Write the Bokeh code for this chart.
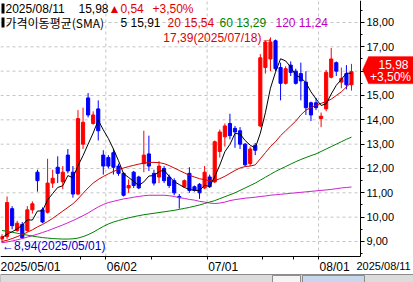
from bokeh.plotting import figure
from bokeh.models import (Range1d, FixedTicker, Label, PolyAnnotation, BoxAnnotation,
                          CustomJSTickFormatter, ColumnDataSource)
from bokeh.embed import file_html
from bokeh.resources import INLINE

# ---------------- data ----------------
dates = [
    "2025/05/01", "2025/05/02", "2025/05/05", "2025/05/06", "2025/05/07", "2025/05/08", "2025/05/09",
    "2025/05/12", "2025/05/13", "2025/05/14", "2025/05/15", "2025/05/16", "2025/05/19", "2025/05/20",
    "2025/05/21", "2025/05/22", "2025/05/23", "2025/05/27", "2025/05/28", "2025/05/29", "2025/05/30",
    "2025/06/02", "2025/06/03", "2025/06/04", "2025/06/05", "2025/06/06", "2025/06/09", "2025/06/10",
    "2025/06/11", "2025/06/12", "2025/06/13", "2025/06/16", "2025/06/17", "2025/06/18", "2025/06/20",
    "2025/06/23", "2025/06/24", "2025/06/25", "2025/06/26", "2025/06/27", "2025/06/30",
    "2025/07/01", "2025/07/02", "2025/07/03", "2025/07/07", "2025/07/08", "2025/07/09", "2025/07/10",
    "2025/07/11", "2025/07/14", "2025/07/15", "2025/07/16", "2025/07/17", "2025/07/18", "2025/07/21",
    "2025/07/22", "2025/07/23", "2025/07/24", "2025/07/25", "2025/07/28", "2025/07/29", "2025/07/30",
    "2025/07/31", "2025/08/01", "2025/08/04", "2025/08/05", "2025/08/06", "2025/08/07", "2025/08/08",
    "2025/08/11",
]
opens = [9.10, 9.20, 10.35, 9.45, 9.70, 9.45, 10.30, 11.85, 10.30, 10.20,
         11.40, 12.05, 11.45, 12.55, 11.85, 10.95, 13.00, 14.90, 13.85, 14.45,
         12.55, 12.45, 12.65, 12.10, 11.80, 11.20, 11.85, 11.65, 12.20, 12.60,
         11.80, 11.65, 12.00, 11.65, 11.50, 10.85, 11.25, 11.80, 11.25, 11.35,
         11.20, 11.65, 11.45, 12.70, 13.30, 13.85, 13.65, 13.55, 13.00, 12.20,
         12.95, 13.75, 16.15, 16.50, 17.25, 16.15, 15.50, 16.25, 16.00, 15.90,
         15.55, 14.70, 14.70, 14.05, 14.45, 15.75, 16.35, 15.55, 15.90, 15.44]
highs = [9.30, 10.85, 10.45, 9.85, 9.80, 10.45, 10.65, 11.95, 10.40, 12.40,
         11.95, 12.50, 12.10, 12.80, 12.10, 14.40, 14.50, 15.10, 14.35, 14.80,
         12.75, 12.55, 12.80, 12.20, 11.85, 11.55, 11.90, 11.70, 13.55, 13.35,
         11.95, 12.30, 12.10, 11.75, 11.60, 10.95, 11.55, 12.05, 11.30, 11.40,
         12.10, 11.75, 13.15, 13.60, 13.85, 14.25, 13.75, 13.70, 13.05, 12.90,
         13.05, 16.70, 17.25, 17.39, 17.30, 16.35, 16.20, 16.40, 16.10, 16.35,
         16.00, 14.75, 14.90, 14.30, 16.05, 16.95, 16.40, 16.15, 16.25, 16.30]
lows = [8.94, 9.10, 9.50, 9.40, 9.10, 9.40, 10.15, 11.05, 9.75, 10.15,
        11.20, 11.40, 11.15, 11.80, 10.80, 10.90, 12.80, 14.10, 13.80, 13.15,
        11.75, 12.00, 11.75, 11.70, 10.85, 11.00, 11.20, 11.15, 11.85, 11.90,
        11.30, 11.40, 11.40, 11.20, 10.90, 10.35, 11.20, 11.00, 11.05, 10.75,
        11.15, 11.20, 11.40, 12.45, 12.90, 13.20, 12.85, 12.80, 12.10, 12.10,
        12.55, 13.70, 15.90, 16.00, 16.00, 14.80, 15.45, 15.80, 15.45, 14.80,
        14.20, 13.95, 14.40, 13.70, 14.35, 15.70, 15.80, 15.30, 15.25, 15.20]
closes = [9.20, 10.60, 9.65, 9.75, 9.15, 10.30, 10.55, 11.50, 9.80, 11.40,
          11.60, 11.80, 11.85, 11.90, 10.95, 14.05, 13.90, 14.20, 14.20, 13.55,
          12.10, 12.10, 12.05, 11.80, 10.90, 11.30, 11.30, 11.20, 12.55, 12.10,
          11.40, 12.10, 11.50, 11.30, 11.00, 10.80, 11.50, 11.10, 11.10, 11.00,
          11.85, 11.25, 13.10, 13.50, 13.75, 13.35, 13.50, 13.00, 12.15, 12.80,
          12.75, 16.55, 17.20, 17.20, 16.10, 15.50, 16.10, 15.95, 15.50, 15.60,
          14.50, 14.20, 14.50, 14.15, 15.95, 16.50, 16.00, 15.70, 15.44, 15.98]
sma5 = [9.15, 9.30, 9.40, 9.52, 9.67, 9.89, 9.88, 10.25, 10.26, 10.71,
        10.97, 11.22, 11.29, 11.71, 11.62, 12.11, 12.53, 13.00, 13.46, 13.98,
        13.59, 13.23, 12.80, 12.32, 11.79, 11.63, 11.47, 11.30, 11.45, 11.69,
        11.71, 11.87, 11.93, 11.68, 11.46, 11.34, 11.22, 11.14, 11.10, 11.10,
        11.31, 11.26, 11.66, 12.14, 12.69, 12.99, 13.44, 13.42, 13.15, 12.96,
        12.84, 13.45, 14.29, 15.30, 15.96, 16.51, 16.42, 16.17, 15.83, 15.73,
        15.53, 15.15, 14.86, 14.59, 14.66, 15.06, 15.42, 15.66, 15.92, 15.91]
sma20 = [9.00, 9.05, 9.12, 9.20, 9.28, 9.38, 9.48, 9.60, 9.70, 9.82,
         9.95, 10.10, 10.25, 10.40, 10.55, 10.75, 10.98, 11.20, 11.40, 11.55,
         11.67, 11.78, 11.88, 11.96, 12.02, 12.08, 12.13, 12.18, 12.22, 12.25,
         12.25, 12.24, 12.20, 12.12, 12.02, 11.92, 11.82, 11.72, 11.65, 11.58,
         11.54, 11.50, 11.50, 11.58, 11.68, 11.80, 11.92, 12.02, 12.08, 12.10,
         12.15, 12.40, 12.65, 12.90, 13.10, 13.35, 13.55, 13.75, 13.95, 14.20,
         14.40, 14.50, 14.60, 14.68, 14.75, 14.85, 15.00, 15.15, 15.35, 15.54]
sma60 = [9.45, 9.42, 9.38, 9.34, 9.30, 9.26, 9.22, 9.19, 9.16, 9.14,
         9.12, 9.11, 9.10, 9.10, 9.11, 9.14, 9.20, 9.28, 9.38, 9.50,
         9.62, 9.72, 9.80, 9.86, 9.92, 9.97, 10.02, 10.06, 10.10, 10.13,
         10.16, 10.19, 10.22, 10.25, 10.28, 10.32, 10.36, 10.40, 10.45, 10.50,
         10.56, 10.62, 10.68, 10.76, 10.84, 10.92, 11.00, 11.10, 11.20, 11.30,
         11.40, 11.52, 11.64, 11.76, 11.88, 11.98, 12.08, 12.18, 12.28, 12.37,
         12.45, 12.53, 12.60, 12.70, 12.80, 12.90, 13.00, 13.10, 13.20, 13.29]
sma120 = [8.95, 8.98, 9.02, 9.07, 9.12, 9.18, 9.24, 9.30, 9.37, 9.44,
          9.52, 9.60, 9.68, 9.77, 9.86, 9.96, 10.06, 10.17, 10.30, 10.42,
          10.52, 10.60, 10.65, 10.70, 10.75, 10.78, 10.82, 10.85, 10.88, 10.90,
          10.90, 10.90, 10.90, 10.88, 10.85, 10.80, 10.77, 10.73, 10.70, 10.65,
          10.62, 10.58, 10.56, 10.58, 10.62, 10.68, 10.72, 10.75, 10.78, 10.80,
          10.82, 10.85, 10.87, 10.90, 10.92, 10.94, 10.96, 10.98, 11.00, 11.02,
          11.04, 11.06, 11.08, 11.10, 11.12, 11.14, 11.17, 11.20, 11.22, 11.24]
price_ticks = [9, 10, 11, 12, 13, 14, 15, 16, 17, 18]
date_tick_labels = {"2025/05/01": "2025/05/01", "2025/06/02": "06/02",
                    "2025/07/01": "07/01", "2025/08/01": "08/01"}
minor_date_ticks = ["2025/05/23", "2025/06/13", "2025/07/17", "2025/07/25"]

# ---------------- geometry / styling ----------------
W, H = 413, 282
PX_X = 5.065           # pixels per trading day
PX_Y = 24.333          # pixels per price unit
X0 = -1.5 / PX_X       # data x at the left edge of the canvas
Y1 = 18.904            # data y at the top of the canvas
PLOT_RIGHT = X0 + 360 / PX_X     # price axis position
PLOT_BOTTOM = Y1 - 256 / PX_Y    # date axis position
Y0 = Y1 - H / PX_Y               # data y at the bottom of the canvas
STRIP_TOP = Y1 - 274 / PX_Y      # top of the window's scrollbar strip

UP, DOWN = "#FF0000", "#0000FF"
C5, C20, C60, C120 = "#000000", "#D00000", "#008000", "#D020D0"
GRID = "#C4C4C4"
FONT = "Liberation Sans"
KFONT = "Noto Sans CJK KR"


def fmt(v):
    return f"{v:.2f}".replace(".", ",")


n = len(dates)
xs = list(range(n))
colors = [UP if c >= o else DOWN for o, c in zip(opens, closes)]
src = ColumnDataSource(dict(
    x=xs, h=highs, l=lows,
    top=[max(o, c) for o, c in zip(opens, closes)],
    bot=[min(o, c) for o, c in zip(opens, closes)],
    color=colors))

p = figure(width=W, height=H, x_range=Range1d(X0, X0 + W / PX_X), y_range=Range1d(Y0, Y1),
           output_backend="svg", toolbar_location=None,
           x_axis_location="below", y_axis_location="right",
           min_border_left=0, min_border_top=0, min_border_right=0, min_border_bottom=0)
p.outline_line_color = None
p.background_fill_color = "white"
p.border_fill_color = "white"
p.grid.visible = False

# scrollbar strip of the window (plain decoration)
p.quad(left=[X0, X0 + 272 / PX_X, X0 + 302 / PX_X], right=[X0 + W / PX_X, X0 + 300 / PX_X, X0 + 364 / PX_X],
       top=[STRIP_TOP, STRIP_TOP - 0.04, STRIP_TOP - 0.04], bottom=[Y0, Y0, Y0],
       fill_color=["#DCDCDC", "#F4F4F4", "#C8D8EC"], line_color="#8C8C8C", line_width=1)

# price axis (right) pinned at the right edge of the plot area
p.yaxis.fixed_location = PLOT_RIGHT
p.yaxis.bounds = (PLOT_BOTTOM, Y1)
p.yaxis.ticker = FixedTicker(ticks=price_ticks,
                             minor_ticks=[t - 0.5 for t in price_ticks] + [price_ticks[-1] + 0.5])
p.yaxis.formatter = CustomJSTickFormatter(code="return tick.toFixed(2).replace('.', ',')")
p.yaxis.major_tick_in = 0
p.yaxis.major_tick_out = 4
p.yaxis.minor_tick_in = 0
p.yaxis.minor_tick_out = 2
p.yaxis.major_label_standoff = 2
p.yaxis.major_label_text_font = FONT
p.yaxis.major_label_text_font_size = "11px"
p.yaxis.major_label_text_color = "#000000"
p.yaxis.axis_line_color = "#000000"
p.yaxis.major_tick_line_color = "#000000"
p.yaxis.minor_tick_line_color = "#000000"

# date axis (below) pinned at the bottom of the plot area
p.xaxis.fixed_location = PLOT_BOTTOM
p.xaxis.bounds = (X0, PLOT_RIGHT)
p.xaxis.ticker = FixedTicker(ticks=[dates.index(d) - 0.5 for d in date_tick_labels if dates.index(d) > 0],
                             minor_ticks=[dates.index(d) - 0.5 for d in minor_date_ticks])
p.xaxis.formatter = CustomJSTickFormatter(code="return ''")
p.xaxis.major_tick_in = 0
p.xaxis.major_tick_out = 3
p.xaxis.minor_tick_in = 0
p.xaxis.minor_tick_out = 3
p.xaxis.axis_line_color = "#000000"
p.xaxis.major_tick_line_color = "#000000"
p.xaxis.minor_tick_line_color = "#000000"

# dashed grid limited to the plot area
p.segment(x0=[X0] * len(price_ticks), y0=price_ticks, x1=[PLOT_RIGHT] * len(price_ticks), y1=price_ticks,
          line_color=GRID, line_dash="3 3", line_width=1)
vt = [dates.index(d) - 0.5 for d in date_tick_labels if dates.index(d) > 0]
p.segment(x0=vt, y0=[PLOT_BOTTOM] * len(vt), x1=vt, y1=[Y1] * len(vt),
          line_color=GRID, line_dash="3 3", line_width=1)

# candles
p.segment(x0="x", y0="l", x1="x", y1="h", line_color="color", line_width=1, source=src)
p.vbar(x="x", width=0.62, top="top", bottom="bot", fill_color="color", line_color="color",
       line_width=1, source=src)

# moving averages
p.line(xs, sma120, line_color=C120, line_width=1)
p.line(xs, sma60, line_color=C60, line_width=1)
p.line(xs, sma20, line_color=C20, line_width=1)
p.line(xs, sma5, line_color=C5, line_width=1)

# date labels below the axis (left aligned at their ticks)
for d, lab in date_tick_labels.items():
    p.add_layout(Label(x=dates.index(d) - 0.5, y=PLOT_BOTTOM, x_offset=1, y_offset=-3, text=lab,
                       text_align="left", text_baseline="top", text_font=FONT,
                       text_font_size="12px", text_color="#000000"))
p.add_layout(Label(x=n - 1, y=PLOT_BOTTOM, x_offset=5, y_offset=-3, text=dates[-1],
                   text_align="left", text_baseline="top", text_font=FONT,
                   text_font_size="11px", text_color="#000000"))

# high / low annotations
hi_i = max(range(n), key=lambda i: highs[i])
lo_i = min(range(n), key=lambda i: lows[i])
p.add_layout(Label(x=hi_i, y=highs[hi_i], x_offset=3, y_offset=-1,
                   text=f"{fmt(highs[hi_i])}({dates[hi_i]})→",
                   text_align="right", text_baseline="middle", text_font=FONT,
                   text_font_size="12px", text_color="#E00000"))
p.add_layout(Label(x=lo_i, y=lows[lo_i], x_offset=0, y_offset=-3,
                   text=f"←{fmt(lows[lo_i])}({dates[lo_i]})",
                   text_align="left", text_baseline="middle", text_font=FONT,
                   text_font_size="12px", text_color="#0000C0"))

# header (two lines over the top of the plot)
last, prev = closes[-1], closes[-2]
chg = last - prev
pct = chg / prev * 100


def hlabel(xpos, ycanvas, text, color, font=FONT):
    p.add_layout(Label(x=xpos, y=H - ycanvas, x_units="screen", y_units="screen", text=text,
                       text_align="left", text_baseline="middle", text_font=font,
                       text_font_size="12px", text_color=color))


for yc in (8, 22):
    p.add_layout(BoxAnnotation(left=1, right=4, top=H - yc + 5, bottom=H - yc - 5,
                               left_units="screen", right_units="screen", top_units="screen",
                               bottom_units="screen", fill_color="#000000", fill_alpha=1,
                               line_color=None))
hlabel(5, 8, dates[-1], "#000000")
hlabel(78, 8, fmt(last), "#000000")
hlabel(108, 8, "▲" + fmt(chg), "#E00000")
hlabel(152, 8, "+" + fmt(pct) + "%", "#E00000")
hlabel(5, 22, "가격이동평균(SMA)", "#000000", KFONT)
hlabel(120, 22, f"5 {fmt(sma5[-1])}", C5)
hlabel(167, 22, f"20 {fmt(sma20[-1])}", "#E00000")
hlabel(219, 22, f"60 {fmt(sma60[-1])}", C60)
hlabel(275, 22, f"120 {fmt(sma120[-1])}", "#C000C0")

# current price tag on the price axis
p.add_layout(PolyAnnotation(xs=[362, 368, 413, 413, 368],
                            ys=[last + 0.08, last + 0.62, last + 0.62, last - 0.5, last - 0.5],
                            xs_units="screen", ys_units="data",
                            fill_color="#FF0000", fill_alpha=1, line_color="#FF0000"))
p.add_layout(Label(x=393, x_units="screen", y=last + 0.3, text=fmt(last), text_align="center",
                   text_baseline="middle", text_font=FONT, text_font_size="12px", text_color="white"))
p.add_layout(Label(x=390, x_units="screen", y=last - 0.22, text="+" + fmt(pct) + "%",
                   text_align="center", text_baseline="middle", text_font=FONT,
                   text_font_size="12px", text_color="white"))

open("out.html", "w").write(file_html(p, INLINE))
